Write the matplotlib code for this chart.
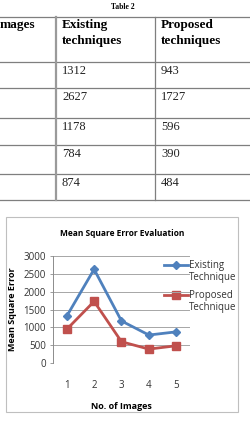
import matplotlib
matplotlib.use("Agg")
import matplotlib.pyplot as plt
from matplotlib.patches import Rectangle

images = [1, 2, 3, 4, 5]
existing = [1312, 2627, 1178, 784, 874]
proposed = [943, 1727, 596, 390, 484]
header = ["mages", "Existing\ntechniques", "Proposed\ntechniques"]
table_title = "Table 2"
chart_title = "Mean Square Error Evaluation"
xlabel = "No. of Images"
ylabel = "Mean Square Error"
series_names = ["Existing\nTechnique", "Proposed\nTechnique"]
yticks = [0, 500, 1000, 1500, 2000, 2500, 3000]

W, H = 251, 421
fig = plt.figure(figsize=(W / 100, H / 100), dpi=100)
fig.patch.set_facecolor("white")

bg = fig.add_axes([0, 0, 1, 1])
bg.set_xlim(0, W)
bg.set_ylim(H, 0)
bg.axis("off")

serif = "Liberation Serif"
bg.text(123, 7, table_title, ha="center", va="center", fontsize=5.5,
        fontweight="bold", family=serif)
row_lines = [17, 62, 88, 118, 145, 174, 200]
for y in row_lines:
    bg.plot([0, W], [y, y], color="#7f7f7f", lw=0.9)
bg.plot([56, 56], [17, 200], color="#9a9a9a", lw=1.6)
bg.plot([155, 155], [17, 200], color="#7f7f7f", lw=0.9)
col_x = [0, 62, 161]
for x, t in zip(col_x, header):
    bg.text(x, 19, t, ha="left", va="top", fontsize=9.5, fontweight="bold",
            family=serif, linespacing=1.4)
for i in range(len(images)):
    y = row_lines[i + 1] + 3
    bg.text(col_x[1], y, str(existing[i]), ha="left", va="top", fontsize=9,
            family=serif, color="#222222")
    bg.text(col_x[2], y, str(proposed[i]), ha="left", va="top", fontsize=9,
            family=serif, color="#222222")

bg.add_patch(Rectangle((6, 217), 232, 195, fill=False, edgecolor="#bfbfbf", lw=0.8))
sans = "Open Sans"
bg.text(122, 233, chart_title, ha="center", va="center", fontsize=6,
        fontweight="bold", family=sans)

left, right, top, bottom = 53, 190, 256, 363
ax = fig.add_axes([left / W, (H - bottom) / H, (right - left) / W, (bottom - top) / H])
blue = "#4F81BD"
red = "#C0504D"
ax.plot(images, existing, color=blue, lw=2, marker="D", ms=3.8)
ax.plot(images, proposed, color=red, lw=2, marker="s", ms=5.2)
ax.set_xlim(0.5, 5.5)
ax.set_ylim(0, 3000)
ax.set_yticks(yticks)
ax.set_xticks(images)
ax.grid(axis="y", color="#a6a6a6", lw=0.7)
ax.set_axisbelow(True)
for s in ["top", "right", "bottom"]:
    ax.spines[s].set_visible(False)
ax.spines["left"].set_color("#8c8c8c")
ax.spines["left"].set_linewidth(0.7)
ax.tick_params(axis="y", length=2, width=0.6, color="#8c8c8c", labelsize=7, pad=3,
               labelcolor="#333333")
ax.tick_params(axis="x", length=0, labelsize=7, pad=12, labelcolor="#333333")
for lbl in ax.get_xticklabels() + ax.get_yticklabels():
    lbl.set_family(sans)
ax.set_xlabel(xlabel, fontsize=6.5, fontweight="bold", family=sans, labelpad=8)
ax.set_ylabel(ylabel, fontsize=6.5, fontweight="bold", family=sans, labelpad=5)
ax.patch.set_alpha(0)

# legend drawn manually
leg_y = [265, 295]
for name, c, m, ms, y in zip(series_names, [blue, red], ["D", "s"], [3.8, 5.2], leg_y):
    bg.plot([164, 188], [y, y], color=c, lw=2)
    bg.plot([176], [y], color=c, marker=m, ms=ms, lw=0)
    bg.text(189, y - 5, name, ha="left", va="top", fontsize=7, family=sans,
            color="#333333", linespacing=1.15)

fig.savefig("out.png", dpi=100, facecolor="white")
